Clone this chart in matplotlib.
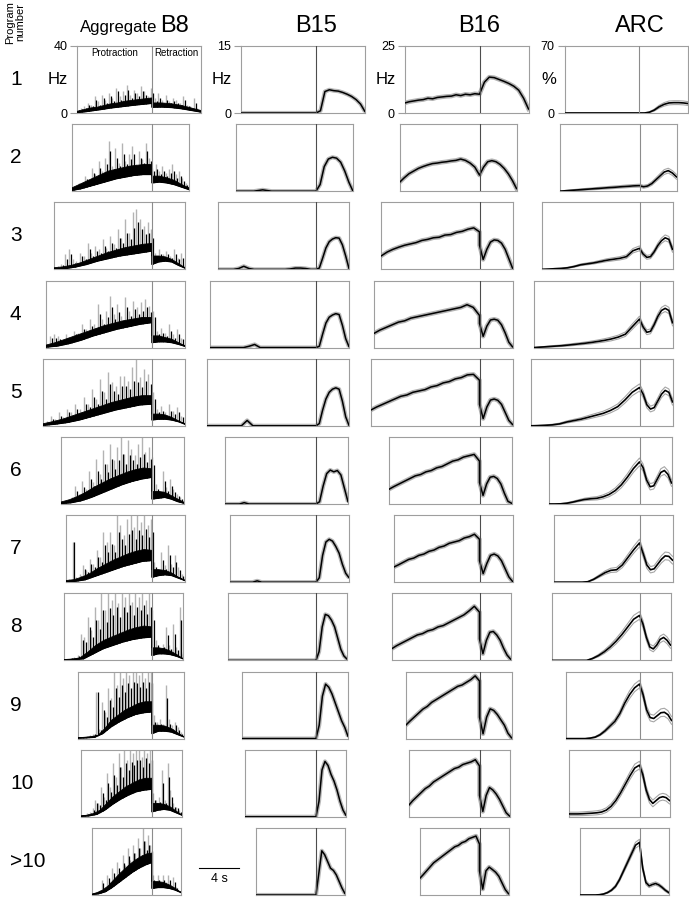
import numpy as np
import matplotlib
matplotlib.use('Agg')
import matplotlib.pyplot as plt

plt.rcParams['font.family'] = ['Liberation Sans', 'DejaVu Sans']

# ---------------- data ----------------
row_labels = ['1', '2', '3', '4', '5', '6', '7', '8', '9', '10', '>10']
col_names = ['B8', 'B15', 'B16', 'ARC']
col_max = [40, 15, 25, 70]
col_unit = ['Hz', 'Hz', 'Hz', '%']

# protraction / retraction durations (s)
pro_dur = [7.5, 8.0, 9.8, 10.6, 10.9, 9.1, 8.6, 8.8, 7.4, 7.1, 6.0]
ret_dur = [4.9, 3.7, 3.3, 3.3, 3.3, 3.2, 3.3, 3.1, 3.2, 3.0, 2.9]

# Aggregate B8 (Hz): lower edge of the trace, top of the dense core,
# black spike tips and grey (SEM) spike tips
b8_lo_pro = [
    [0.3, 0.8, 1.5, 2.2, 3, 3.6, 4.2, 4.8, 5.3, 5.8],
    [0.5, 1.5, 3, 4.5, 6, 7.5, 8.5, 9.5, 10, 10],
    [0.2, 0.5, 1.5, 3, 5, 6.5, 8, 9, 10, 11],
    [0.3, 1, 2.5, 4.5, 7, 9, 11, 12.5, 14, 15],
    [0.3, 1, 2, 3.5, 5.5, 7.5, 9.5, 11, 12.5, 13],
    [0.3, 0.8, 2, 4, 6.5, 9, 11.5, 13.5, 15, 16],
    [0.3, 0.6, 1.5, 3.5, 5.5, 7.5, 9.5, 11, 12.5, 13],
    [0.3, 0.5, 1, 4, 7, 9, 11, 12.5, 13.5, 14],
    [0.3, 0.5, 0.8, 3, 7, 10, 12.5, 14.5, 15.5, 16],
    [0.3, 0.6, 1.5, 4, 7.5, 10.5, 13, 15, 16, 16.5],
    [0.3, 0.8, 2, 4.5, 7.5, 10.5, 13.5, 16, 18, 19.5],
]
b8_lo_ret = [
    [3.5, 3.6, 3.3, 2.6, 1.6, 0.6],
    [5, 5.5, 5, 4, 2.5, 1],
    [3, 4.5, 5, 4.5, 2.5, 0.8],
    [3, 3.5, 3.5, 3, 2, 0.8],
    [3.5, 4, 4, 3.5, 2.5, 1],
    [3, 3.5, 4, 3, 1.5, 0.5],
    [3, 4, 4.5, 4, 2.5, 1],
    [3, 4, 4, 3.5, 2.5, 1],
    [3, 4.5, 4.5, 4, 2.5, 1],
    [3, 4, 4.5, 4, 2.5, 1],
    [4, 4.5, 4.5, 4, 3, 1.5],
]
b8_hi_pro = [
    [1, 2, 3, 3.5, 4.5, 5.5, 6, 7, 7.5, 8, 8.5, 9],
    [2, 4, 6, 8, 10, 12, 13, 14, 15, 15.5, 16, 16],
    [1, 1.5, 2.5, 4, 6, 8, 10, 11.5, 13, 14, 15, 15.5],
    [1.5, 3, 5, 7, 9, 11, 13, 14.5, 16, 17, 18, 18],
    [1.2, 2.5, 4, 6, 8, 10, 12, 14, 15.5, 17, 18, 18],
    [1.2, 2.5, 4.5, 7, 10, 12.5, 15, 17, 19, 20.5, 21.5, 21],
    [1, 1.5, 3, 5, 8, 10.5, 13, 15, 17, 18.5, 19.5, 19],
    [0.5, 0.8, 1.5, 5, 9, 12, 14, 16, 18, 19.5, 20.5, 20],
    [0.5, 0.8, 1.2, 2, 6, 11, 14, 17, 19, 21, 22, 22],
    [0.5, 1, 2, 4, 8, 12, 15, 18, 20, 22, 23, 23],
    [0.5, 1.5, 3, 5.5, 9, 12.5, 15.5, 18.5, 21, 23, 24.5, 25],
]
b8_hi_ret = [
    [6, 6, 5.5, 4.5, 3, 1.5],
    [9, 9, 8, 6.5, 4, 2],
    [8, 8, 7.5, 6, 3.5, 1],
    [7, 7, 6, 5, 3, 1],
    [7, 7, 6.5, 5, 3, 1],
    [7.5, 7.5, 7, 5, 3, 1],
    [7.5, 7.5, 7, 5.5, 3, 1],
    [7.5, 7.5, 7, 5.5, 3.5, 1],
    [8, 8, 7.5, 6, 3.5, 1],
    [8, 8, 7.5, 6, 3.5, 1],
    [8, 8, 7.5, 6, 4, 1.5],
]
b8_black = [
    [1.5, 2.5, 3, 5, 4, 8, 5, 9, 6, 10, 7, 13, 8, 11, 14, 9, 12, 10, 13, 11, 9, 12, 7, 9, 6, 8, 6, 7, 6, 5, 8, 4, 3, 6, 2, 1.5],
    [1.5, 2.5, 4, 3, 7, 5, 11, 8, 14, 10, 16, 24, 13, 20, 15, 22, 16, 19, 22, 15, 20, 17, 24, 18, 12, 13, 10, 12, 9, 11, 12, 8, 9, 6, 4, 2],
    [0.8, 1.5, 2.5, 6, 9, 4, 4, 8, 6, 12, 8, 11, 10, 14, 11, 16, 13, 19, 16, 22, 18, 25, 28, 24, 21, 22, 19, 8, 9, 7, 9, 7, 9, 6, 7, 2],
    [0.8, 6, 6, 5, 3, 6, 5, 8, 7, 11, 9, 13, 12, 20, 14, 18, 24, 17, 21, 16, 24, 19, 23, 20, 22, 24, 21, 18, 8, 9, 7, 10, 6, 8, 5, 2],
    [0.8, 2, 4, 3, 6, 4, 8, 6, 10, 8, 13, 11, 17, 13, 21, 16, 25, 21, 19, 24, 24, 22, 27, 26, 23, 27, 25, 16, 8, 9, 6, 9, 7, 8, 5, 2],
    [0.8, 1.5, 2.5, 3, 8, 5, 10, 8, 15, 11, 20, 15, 24, 19, 27, 21, 26, 30, 24, 29, 26, 24, 28, 30, 25, 27, 23, 9, 6, 14, 8, 11, 7, 5, 3, 1.5],
    [0.8, 1.5, 24, 2, 4, 8, 6, 11, 9, 15, 12, 22, 18, 23, 18, 30, 26, 22, 29, 31, 26, 31, 28, 32, 27, 30, 9, 6, 13, 8, 16, 9, 12, 7, 4, 2],
    [0.5, 0.8, 1.2, 1.5, 2.5, 12, 11, 20, 14, 24, 19, 30, 23, 31, 27, 32, 26, 32, 29, 33, 27, 32, 30, 33, 28, 32, 24, 9, 6, 8, 15, 7, 16, 6, 24, 4],
    [0.5, 0.8, 0.8, 1.2, 1.5, 2.5, 28, 5, 17, 13, 23, 19, 30, 25, 32, 28, 33, 30, 34, 33, 31, 34, 30, 34, 33, 10, 8, 9, 7, 24, 9, 6, 8, 5, 3, 1.5],
    [0.5, 0.8, 1.5, 2.5, 4, 8, 7, 14, 10, 20, 15, 25, 19, 30, 24, 32, 28, 33, 31, 34, 34, 30, 35, 32, 34, 10, 8, 9, 20, 8, 24, 12, 6, 5, 3, 1.5],
    [0.5, 0.8, 1.5, 2.5, 7, 4, 10, 7, 13, 9, 16, 12, 19, 15, 23, 18, 25, 21, 28, 24, 32, 27, 30, 26, 9, 6, 9, 6, 9, 6, 9, 5, 8, 4, 2.5, 1.5],
]
b8_grey = [
    [2, 3, 4, 6, 5, 10, 7, 11, 8, 12, 9, 15, 10, 13, 17, 11, 14, 12, 16, 13, 10, 15, 9, 12, 8, 11, 7, 9, 8, 6, 10, 5, 4, 9, 3, 2],
    [2, 3, 5, 4, 9, 6, 14, 10, 18, 12, 20, 30, 15, 26, 17, 29, 18, 22, 27, 16, 24, 19, 29, 20, 14, 16, 12, 15, 11, 13, 16, 10, 12, 8, 5, 3],
    [1, 2, 3, 9, 12, 6, 5, 10, 8, 16, 10, 14, 12, 18, 13, 20, 15, 24, 19, 30, 22, 34, 36, 30, 26, 28, 24, 10, 12, 9, 11, 8, 12, 7, 10, 3],
    [1, 7, 8, 7, 4, 8, 6, 10, 9, 14, 11, 17, 14, 26, 17, 22, 31, 20, 26, 19, 30, 22, 28, 24, 27, 29, 25, 22, 10, 12, 9, 14, 8, 11, 6, 3],
    [1, 3, 6, 4, 8, 5, 10, 8, 13, 10, 17, 13, 22, 16, 28, 20, 32, 26, 24, 30, 30, 27, 35, 40, 29, 34, 31, 20, 10, 12, 8, 13, 9, 11, 6, 3],
    [1, 2, 3, 4, 11, 6, 14, 9, 20, 13, 27, 18, 32, 24, 36, 26, 34, 40, 30, 38, 33, 29, 36, 40, 31, 34, 28, 12, 8, 20, 10, 15, 9, 6, 4, 2],
    [1, 2, 24, 3, 5, 10, 7, 14, 11, 19, 15, 30, 24, 30, 22, 40, 34, 28, 38, 40, 33, 40, 36, 40, 34, 38, 12, 8, 18, 10, 22, 11, 16, 9, 5, 3],
    [0.5, 1, 1.5, 2, 3, 16, 14, 26, 18, 32, 24, 40, 30, 40, 36, 40, 34, 40, 38, 40, 35, 40, 38, 40, 36, 40, 30, 12, 8, 10, 20, 9, 22, 8, 32, 5],
    [0.5, 1, 1, 1.5, 2, 3, 28, 6, 22, 16, 30, 24, 40, 32, 40, 36, 40, 38, 40, 40, 38, 40, 36, 40, 40, 14, 10, 12, 9, 32, 12, 8, 10, 7, 4, 2],
    [0.5, 1, 2, 3, 5, 10, 8, 18, 12, 26, 18, 32, 24, 38, 30, 40, 34, 40, 38, 40, 40, 36, 40, 38, 40, 14, 10, 12, 28, 10, 32, 16, 8, 6, 4, 2],
    [0.5, 1, 2, 3, 9, 5, 12, 8, 16, 10, 20, 14, 24, 18, 28, 21, 30, 25, 34, 28, 40, 32, 36, 30, 12, 8, 12, 7, 12, 8, 12, 6, 11, 5, 3, 2],
]

# B15 (Hz)
b15_pro = [
    [0, 0, 0, 0, 0, 0, 0, 0, 0, 0],
    [0, 0, 0, 0.3, 0, 0, 0, 0, 0, 0],
    [0, 0, 0, 0, 0.2, 0.7, 0.2, 0, 0, 0, 0, 0, 0, 0, 0.1, 0.3, 0.3, 0.2, 0, 0],
    [0, 0, 0, 0, 0, 0, 0, 0.3, 0.7, 0, 0, 0, 0, 0, 0, 0, 0, 0, 0, 0],
    [0, 0, 0, 0, 0, 0, 0, 1.2, 0, 0, 0, 0, 0, 0, 0, 0, 0, 0, 0, 0],
    [0, 0, 0, 0, 0.3, 0, 0, 0, 0, 0, 0, 0, 0, 0, 0, 0, 0, 0, 0, 0],
    [0, 0, 0, 0, 0, 0, 0.3, 0, 0, 0, 0, 0, 0, 0, 0, 0, 0, 0, 0, 0],
    [0, 0, 0, 0, 0, 0, 0, 0, 0, 0],
    [0, 0, 0, 0, 0, 0, 0, 0, 0, 0],
    [0, 0, 0, 0, 0, 0, 0, 0, 0, 0],
    [0, 0, 0, 0, 0, 0, 0, 0, 0, 0],
]
b15_ret = [
    [0, 0.5, 4.8, 5.2, 5.0, 4.9, 4.6, 4.2, 3.7, 3.0, 2.0, 0.3],
    [0, 1.5, 5.5, 7.2, 7.6, 7.4, 6.5, 4.5, 2, 0],
    [0, 0.3, 2.5, 4.8, 6.2, 6.8, 7.1, 7.0, 5.5, 3, 0.2],
    [0, 0.3, 3, 5.5, 6.8, 7.3, 7.6, 7.4, 5, 2, 0.2],
    [0, 0.5, 3.5, 6, 7.5, 8.2, 8.5, 8.2, 5.5, 2, 0.1],
    [0, 0.5, 4, 6.8, 7.6, 7.2, 7.5, 6.5, 3.5, 0.5],
    [0, 1, 6, 9, 9.6, 9.2, 8, 6.5, 4, 2, 1],
    [0, 2, 7.5, 10.3, 10, 9, 7.5, 5, 2.5, 1, 0.3],
    [0, 3, 9.5, 12.2, 11.5, 10, 8, 6, 4, 2.5, 0.5],
    [0, 3.5, 10.5, 12.4, 11.5, 9.5, 8, 6, 3.5, 1.5, 0.3],
    [0, 5, 9.9, 9, 7.5, 6, 5.5, 4.5, 3, 1.5, 0.3],
]

# B16 (Hz)
b16_pro = [
    [3.7, 4.2, 4.5, 4.8, 5.0, 5.5, 5.3, 5.8, 6.0, 6.2, 6.3, 6.8, 6.5, 7.0, 6.8, 7.2, 7.0],
    [3.3, 5, 6.5, 7.5, 8.5, 9.2, 9.8, 10.3, 10.5, 10.8, 11, 11.3, 11.5, 12, 11.5, 10.5, 9, 6],
    [5.1, 6.5, 7.5, 8.3, 9, 9.5, 10, 10.8, 11.2, 11.8, 12, 12.8, 13, 13.8, 14.2, 15, 15.5, 14],
    [5.2, 6.5, 7.5, 8.5, 9.5, 10, 11, 11.5, 12, 12.5, 13, 13.5, 14, 14.5, 15, 16, 15, 12],
    [5.8, 7, 8, 9, 10, 11, 11.5, 12.5, 13, 13.5, 14.5, 15, 16, 16.5, 17.5, 18, 19, 19.2, 17],
    [5.4, 6.5, 7.5, 8.5, 9.5, 10.5, 11, 12, 12.5, 13.5, 14, 15, 16, 16.5, 17.5, 18, 18.5, 16],
    [5.6, 6.5, 7.5, 8.5, 9, 10, 10.5, 11.5, 12, 13, 13.5, 14.5, 15, 15.5, 16.5, 17, 17.9, 16],
    [4.3, 5.5, 6.5, 7.5, 8.5, 9.5, 10, 11, 11.5, 12.5, 13, 14, 15, 16, 17, 18.5, 20.2, 18],
    [4.9, 6.5, 8, 9.5, 11, 12, 13.5, 14.5, 15.5, 16.5, 17.5, 18.5, 19.5, 20, 21, 22, 23.4, 21.5],
    [4.2, 6, 7.5, 9, 10.5, 11.5, 13, 14, 15, 16, 17, 18, 18.5, 19.5, 20, 20.5, 21.3, 19],
    [6.1, 7.5, 9, 10.5, 12, 13, 14, 15, 16, 17, 18, 18.5, 19.5, 20, 21, 21.5, 22, 19],
]
b16_ret = [
    [7, 11.5, 13.4, 13.2, 12.5, 11.8, 11, 10, 8.5, 5.5, 1.5],
    [6, 9, 11, 11.4, 11, 10, 8.5, 6.5, 4, 1],
    [9, 3.7, 7.5, 10.2, 11, 10.8, 9.8, 7.5, 4, 0.5],
    [9, 4.2, 8, 10.3, 10.6, 10.2, 8.5, 5.5, 2, 0.3],
    [8, 2.7, 7, 9.6, 10, 9.5, 8, 5, 2, 0.5],
    [8, 3.2, 7.5, 10, 10.3, 9.5, 7.5, 4, 1, 0.3],
    [8, 3.2, 7, 10, 10.5, 9.8, 8, 5, 2, 0.3],
    [8, 2.5, 7.5, 10.5, 10.8, 9.5, 7.5, 4.5, 2, 0.5],
    [8, 1.8, 8, 11.1, 10.5, 9, 7, 5, 2, 0.3],
    [8, 2, 8, 10.9, 10, 8.5, 6.5, 4, 1.5, 0.3],
    [9, 2.2, 9, 10.4, 9.5, 8.5, 7, 4.5, 2, 0.5],
]

# ARC (%): mean and SEM
arc_pro = [
    [0, 0, 0, 0, 0, 0, 0, 0],
    [0, 0.5, 1, 1.5, 2, 2.5, 3, 3.5, 4, 4.5, 5, 5.5, 5.8],
    [0, 0.3, 0.7, 1, 1.7, 3, 4.8, 5.8, 6.8, 8.2, 9.6, 10.6, 11.6, 13.3, 19.5, 22],
    [0, 0.5, 1, 1.5, 2, 2.7, 3.5, 4.3, 5.2, 6.3, 7.5, 9, 11, 14, 22, 29.8],
    [0, 0.2, 0.5, 1, 2, 4, 5.5, 7, 9, 11, 13, 16, 20, 27, 35, 40],
    [0, 0, 0.2, 0.8, 2, 3.5, 4.8, 5.5, 6, 7.5, 10, 14, 20, 28, 37, 44],
    [0, 0, 0, 0, 0, 0, 0.5, 3, 6.5, 10, 12.4, 13, 18, 26, 34, 41],
    [0, 0, 0, 0, 0, 0, 0, 2, 5, 9, 14, 20, 27, 35, 43, 47],
    [0, 0, 0, 0, 0, 0.5, 1.5, 4, 8, 13, 18, 26, 37, 46, 53, 57],
    [3, 3, 3, 3.2, 3.5, 3.8, 4.2, 5, 7, 11, 17, 25, 34, 43, 51, 54],
    [0, 0, 0, 0, 0, 0.3, 1, 2.5, 5, 9, 16, 25, 34, 43, 52, 55],
]
arc_ret = [
    [0, 0, 0.8, 3, 6.5, 9, 10.5, 10.8, 10.8, 10.5, 9.8],
    [5.8, 4.6, 5.5, 8, 12, 16, 20, 21.5, 19, 15],
    [22, 16, 12.6, 13.3, 18.4, 25, 30, 33, 31.4, 21],
    [29.8, 21.5, 16, 17, 24, 32.6, 38.8, 41, 38.8, 26],
    [40, 33, 22, 17.5, 19, 26, 33, 37, 35, 25],
    [44, 38, 25, 18, 19, 26, 33, 35, 31, 22],
    [41, 30, 18, 13, 14, 19, 24, 27.5, 27, 23],
    [47, 38, 24, 14, 12, 16, 22, 24, 21, 16],
    [57, 46, 30, 22, 21, 24, 27, 27.5, 25, 19],
    [54, 44, 28, 18, 14, 17, 20, 21, 20, 17],
    [55, 28, 13, 9.5, 11, 12, 10.5, 8, 5, 2.7],
]
arc_sem_pro = [
    [0, 0, 0, 0, 0, 0, 0, 0],
    [0, 0.4, 0.6, 0.8, 0.9, 1, 1.1, 1.2, 1.3, 1.3, 1.4, 1.4, 1.5],
    [0, 0.2, 0.3, 0.4, 0.5, 0.7, 0.9, 1, 1.1, 1.3, 1.5, 1.6, 1.7, 1.9, 2.3, 2.5],
    [0, 0.3, 0.5, 0.7, 0.8, 1, 1.1, 1.2, 1.4, 1.5, 1.7, 1.9, 2, 2.3, 2.8, 3],
    [0, 0.2, 0.4, 0.6, 0.8, 1.1, 1.3, 1.5, 1.8, 2, 2.2, 2.5, 2.8, 3.2, 3.5, 3.7],
    [0, 0, 0.2, 0.5, 0.8, 1, 1.3, 1.5, 1.7, 2, 2.3, 2.7, 3.1, 3.5, 3.9, 4],
    [0, 0, 0, 0, 0, 0, 0.3, 0.8, 1.3, 1.8, 2.2, 2.4, 2.8, 3.2, 3.6, 4],
    [0, 0, 0, 0, 0, 0, 0, 0.6, 1.2, 1.8, 2.3, 2.8, 3.2, 3.6, 4, 4],
    [0, 0, 0, 0, 0, 0.3, 0.6, 1, 1.5, 2, 2.5, 3, 3.5, 4, 4, 4],
    [1.8, 1.8, 1.8, 1.9, 2, 2, 2.1, 2.2, 2.4, 2.7, 3, 3.3, 3.6, 3.8, 4, 4],
    [0, 0, 0, 0, 0, 0.2, 0.4, 0.7, 1, 1.4, 1.8, 2.2, 2.6, 2.9, 3.1, 3.2],
]
arc_sem_ret = [
    [0, 0, 0.4, 1, 1.5, 1.8, 2, 2, 2, 2, 2],
    [1.5, 1.5, 1.5, 1.8, 2, 2.3, 2.5, 2.5, 2.5, 2.5],
    [2.5, 2.2, 2, 2, 2.2, 2.5, 2.8, 3, 3, 3],
    [3, 2.8, 2.5, 2.5, 2.8, 3, 3.2, 3.3, 3.3, 3.2],
    [3.7, 3.5, 3.2, 3, 3, 3.2, 3.5, 3.5, 3.5, 3.3],
    [4, 3.8, 3.5, 3.3, 3.3, 3.5, 3.8, 4, 3.8, 3.5],
    [4, 3.8, 3.5, 3.3, 3.3, 3.5, 3.8, 4, 4, 4],
    [4, 3.8, 3.3, 3, 3, 3.2, 3.5, 3.5, 3.5, 3.3],
    [4, 4, 3.8, 3.5, 3.5, 3.8, 4, 4.2, 4.2, 4],
    [4, 4, 3.8, 3.5, 3.5, 3.5, 3.5, 3.5, 3.5, 3.5],
    [3.2, 2.8, 2.2, 1.8, 1.7, 1.7, 1.6, 1.5, 1.3, 1.2],
]

# ---------------- layout ----------------
W, H = 689, 899
fig = plt.figure(figsize=(W / 100, H / 100), dpi=100)

line_x = [152, 316, 479.5, 639.5]   # px position of protraction/retraction boundary
px_per_s = 10.0
row_top0, row_step, panel_h = 46, 78.2, 67
box_col = '0.62'


def trace(pro, ret, P, R):
    t = np.concatenate([np.linspace(-P, 0, len(pro)), np.linspace(0, R, len(ret))])
    y = np.concatenate([np.asarray(pro, float), np.asarray(ret, float)])
    return t, y


def make_ax(r, c):
    P, R = pro_dur[r], ret_dur[r]
    top = row_top0 + row_step * r
    left = line_x[c] - P * px_per_s
    width = (P + R) * px_per_s
    ax = fig.add_axes([left / W, 1 - (top + panel_h) / H, width / W, panel_h / H])
    ax.set_xlim(-P, R)
    ax.set_ylim(0, col_max[c])
    for s in ax.spines.values():
        s.set_color(box_col)
        s.set_linewidth(0.8)
    ax.set_xticks([])
    vcol = '0.55' if c in (0, 3) else '0.3'
    ax.axvline(0, color=vcol, lw=0.8, zorder=6)
    if r == 0:
        ax.set_yticks([0, col_max[c]])
        ax.set_yticklabels(['0', str(col_max[c])])
        ax.tick_params(axis='y', length=5, width=0.8, color=box_col, labelsize=9, pad=2)
        ax.text(-0.07, 0.5, col_unit[c], transform=ax.transAxes, ha='right',
                va='center', fontsize=12)
    else:
        ax.set_yticks([])
    return ax


for r in range(len(row_labels)):
    P, R = pro_dur[r], ret_dur[r]

    # Aggregate B8: grey spikes on one grid, black spikes between them
    ax = make_ax(r, 0)
    ts = np.linspace(-P, R, len(b8_grey[r]))
    half = (ts[1] - ts[0]) / 2
    ax.vlines(ts, 0, b8_grey[r], color='0.7', lw=1.0, zorder=1)
    ax.vlines(np.clip(ts + half, -P, R), 0, b8_black[r], color='black', lw=0.9, zorder=1.5)
    tl, yl = trace(b8_lo_pro[r], b8_lo_ret[r], P, R)
    th, yh = trace(b8_hi_pro[r], b8_hi_ret[r], P, R)
    ax.fill_between(tl, 0, yl, color='white', lw=0, zorder=2)
    ax.fill(np.concatenate([th, tl[::-1]]), np.concatenate([yh, yl[::-1]]),
            color='black', lw=0.6, zorder=3)
    ax.plot(tl, yl, color='black', lw=1.0, zorder=4)
    if r == 0:
        ax.text(-P / 2, 0.9, 'Protraction', transform=ax.get_xaxis_transform(),
                ha='center', va='center', fontsize=7)
        ax.text(R / 2, 0.9, 'Retraction', transform=ax.get_xaxis_transform(),
                ha='center', va='center', fontsize=7)

    # B15
    ax = make_ax(r, 1)
    t, y = trace(b15_pro[r], b15_ret[r], P, R)
    ax.plot(t, y, color='0.72', lw=3.0, solid_capstyle='butt', zorder=2)
    ax.plot(t, y, color='black', lw=1.1, zorder=3)
    if r == len(row_labels) - 1:
        ax.plot([-11.7, -7.7], [6, 6], color='black', lw=0.8, clip_on=False)
        ax.text(-9.7, 3.6, '4 s', ha='center', va='center', fontsize=9)

    # B16
    ax = make_ax(r, 2)
    t, y = trace(b16_pro[r], b16_ret[r], P, R)
    ax.plot(t, y, color='0.7', lw=3.2, zorder=2)
    ax.plot(t, y, color='black', lw=1.1, zorder=3)

    # ARC
    ax = make_ax(r, 3)
    t, y = trace(arc_pro[r], arc_ret[r], P, R)
    _, e = trace(arc_sem_pro[r], arc_sem_ret[r], P, R)
    ax.plot(t, y + e, color='0.65', lw=0.8, zorder=2)
    ax.plot(t, np.clip(y - e, 0, None), color='0.65', lw=0.8, zorder=2)
    ax.plot(t, y, color='black', lw=1.2, zorder=3)

    # row label
    fig.text(10 / W, 1 - (row_top0 + row_step * r + panel_h / 2) / H, row_labels[r],
             ha='left', va='center', fontsize=15)

# column titles
title_y = 1 - 32 / H
fig.text(157 / W, title_y, 'Aggregate', ha='right', va='baseline', fontsize=12)
fig.text(160 / W, title_y, 'B8', ha='left', va='baseline', fontsize=17)
for c in range(1, 4):
    fig.text(line_x[c] / W, title_y, col_names[c], ha='center', va='baseline', fontsize=17)

fig.text(15 / W, 1 - 1 / H, 'Program\nnumber', rotation=90, ha='center', va='top',
         fontsize=8, linespacing=0.95, multialignment='center')

fig.savefig('out.png', dpi=100)
